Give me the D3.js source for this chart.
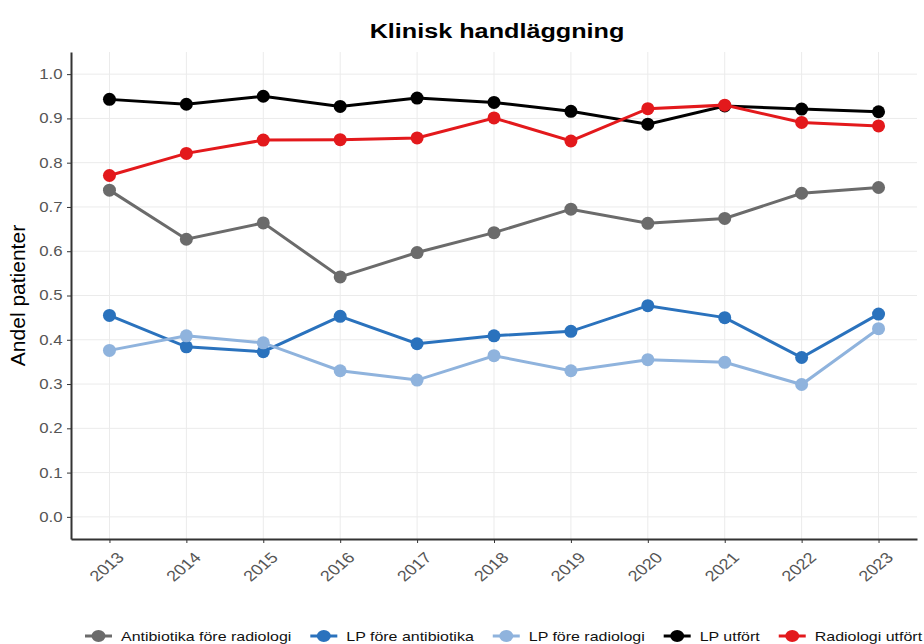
<!DOCTYPE html>
<html>
<head>
<meta charset="utf-8">
<script src="https://cdn.jsdelivr.net/npm/d3@7"></script>
<style>
  body { margin: 0; background: #fff; }
  text { font-family: "Liberation Sans", Arial, sans-serif; }
</style>
</head>
<body>
<div id="chart"></div>
<script>
// Klinisk handläggning - andel patienter per år

const years = [2013, 2014, 2015, 2016, 2017, 2018, 2019, 2020, 2021, 2022, 2023];

const antibiotikaForeRadiologi = [0.738, 0.627, 0.664, 0.542, 0.597, 0.642, 0.695, 0.663, 0.674, 0.731, 0.744];
const lpForeAntibiotika        = [0.455, 0.384, 0.373, 0.453, 0.391, 0.409, 0.419, 0.477, 0.450, 0.360, 0.458];
const lpForeRadiologi          = [0.376, 0.409, 0.393, 0.330, 0.309, 0.364, 0.330, 0.355, 0.349, 0.299, 0.425];
const lpUtfort                 = [0.943, 0.932, 0.950, 0.927, 0.946, 0.936, 0.916, 0.887, 0.928, 0.921, 0.915];
const radiologiUtfort          = [0.771, 0.821, 0.851, 0.852, 0.856, 0.901, 0.849, 0.922, 0.930, 0.891, 0.883];

const seriesNames = ["Antibiotika före radiologi", "LP före antibiotika", "LP före radiologi", "LP utfört", "Radiologi utfört"];
const seriesValues = [antibiotikaForeRadiologi, lpForeAntibiotika, lpForeRadiologi, lpUtfort, radiologiUtfort];
const seriesColors = ["#6b6b6b", "#2a72bd", "#8fb3dd", "#000000", "#e3191c"];

const yTicks = [0, 0.1, 0.2, 0.3, 0.4, 0.5, 0.6, 0.7, 0.8, 0.9, 1.0];

var width = 924;
var height = 644;
var margin = {top: 52, right: 7, bottom: 105, left: 71};
var stretch = 1.2;   // the picture is a bit wider than tall

var svg = d3.select("#chart").append("svg")
    .attr("width", width)
    .attr("height", height);

var x = d3.scaleLinear()
    .domain([2012.5, 2023.5])
    .range([margin.left, width - margin.right]);

var y = d3.scaleLinear()
    .domain([-0.05, 1.05])
    .range([height - margin.bottom, margin.top]);

// grid
var grid = svg.append("g");
grid.selectAll(".gy")
  .data(yTicks).enter().append("line")
    .attr("x1", margin.left).attr("x2", width - margin.right)
    .attr("y1", d => y(d)).attr("y2", d => y(d))
    .attr("stroke", "#ebebeb").attr("stroke-width", 1);
grid.selectAll(".gx")
  .data(years).enter().append("line")
    .attr("x1", d => x(d)).attr("x2", d => x(d))
    .attr("y1", margin.top).attr("y2", height - margin.bottom)
    .attr("stroke", "#ebebeb").attr("stroke-width", 1);

// axes
var xAxis = svg.append("g")
    .attr("transform", "translate(0," + (height - margin.bottom) + ")")
    .call(d3.axisBottom(x).tickValues(years).tickFormat(d3.format("d")).tickSize(4).tickSizeOuter(0));
xAxis.select(".domain").attr("stroke", "#333").attr("stroke-width", 2);
xAxis.selectAll(".tick line").attr("stroke", "#333");
xAxis.selectAll("text")
    .attr("fill", "#555")
    .attr("font-size", "15px")
    .attr("text-anchor", "end")
    .attr("dy", null)
    .attr("y", 0)
    .attr("transform", "translate(6,12) scale(" + stretch + ",1) rotate(-45)")
    .attr("dominant-baseline", "hanging");

var yAxis = svg.append("g")
    .attr("transform", "translate(" + margin.left + ",0)")
    .call(d3.axisLeft(y).tickValues(yTicks).tickFormat(d3.format(".1f")).tickSize(4).tickSizeOuter(0));
yAxis.select(".domain").attr("stroke", "#333").attr("stroke-width", 2);
yAxis.selectAll(".tick line").attr("stroke", "#333");
yAxis.selectAll("text")
    .attr("fill", "#555")
    .attr("font-size", "14px")
    .attr("x", -7)
    .attr("transform", "scale(" + stretch + ",1)");

// lines + points
var line = d3.line()
    .x((d, i) => x(years[i]))
    .y(d => y(d));

seriesValues.forEach(function(vals, k) {
  var s = svg.append("g").attr("class", "series");
  s.append("path")
    .attr("d", line(vals))
    .attr("fill", "none")
    .attr("stroke", seriesColors[k])
    .attr("stroke-width", 3);
  s.selectAll("circle")
    .data(vals).enter().append("circle")
      .attr("cx", (d, i) => x(years[i]))
      .attr("cy", d => y(d))
      .attr("r", 6.5)
      .attr("fill", seriesColors[k]);
});

// title
svg.append("text")
    .attr("transform", "translate(497,38) scale(" + stretch + ",1)")
    .attr("text-anchor", "middle")
    .attr("font-size", "21px")
    .attr("font-weight", "bold")
    .text("Klinisk handläggning");

// y label
svg.append("text")
    .attr("transform", "translate(25," + ((margin.top + height - margin.bottom) / 2) + ") rotate(-90)")
    .attr("text-anchor", "middle")
    .attr("font-size", "21px")
    .text("Andel patienter");

// legend
var legend = svg.append("g")
    .attr("transform", "translate(85," + 636 + ")");
var lx = 0;
seriesNames.forEach(function(name, k) {
  var item = legend.append("g").attr("transform", "translate(" + lx + ",0)");
  item.append("line")
    .attr("x1", 0).attr("x2", 27)
    .attr("stroke", seriesColors[k]).attr("stroke-width", 3);
  item.append("ellipse")
    .attr("cx", 13.5).attr("rx", 7).attr("ry", 6)
    .attr("fill", seriesColors[k]);
  var t = item.append("text")
    .attr("transform", "translate(36,0) scale(" + stretch + ",1)")
    .attr("dy", "0.35em")
    .attr("font-size", "13.3px")
    .attr("fill", "#111")
    .text(name);
  lx += 36 + t.node().getComputedTextLength() * stretch + 19;
});
</script>
</body>
</html>
